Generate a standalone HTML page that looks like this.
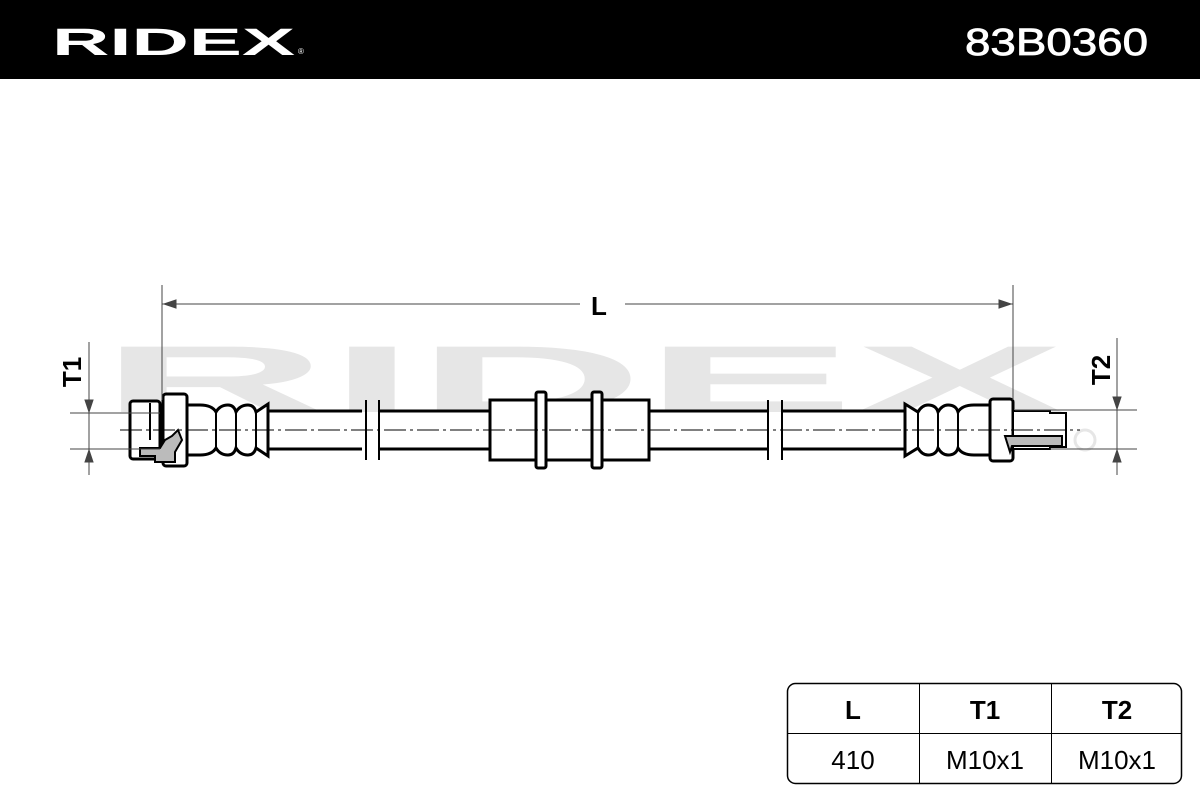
<!DOCTYPE html>
<html><head><meta charset="utf-8"><style>
html,body{margin:0;padding:0;background:#fff;}
svg{display:block;}
</style></head><body>
<svg width="1200" height="800" viewBox="0 0 1200 800" xmlns="http://www.w3.org/2000/svg" font-family="Liberation Sans, sans-serif">
<rect x="0" y="0" width="1200" height="79" fill="#000"/>
<text x="52" y="55" font-size="38" font-weight="bold" fill="#fff" textLength="243" lengthAdjust="spacingAndGlyphs">RIDEX</text>
<text x="298" y="54" font-size="8" fill="#fff">®</text>
<text x="965" y="55" font-size="38" fill="#fff" textLength="183" lengthAdjust="spacingAndGlyphs" stroke="#fff" stroke-width="0.8">83B0360</text>

<!-- watermark -->
<text x="100" y="412" font-size="95" font-weight="bold" fill="#e6e6e6" textLength="965" lengthAdjust="spacingAndGlyphs">RIDEX</text>
<circle cx="1085" cy="440" r="10" fill="none" stroke="#e6e6e6" stroke-width="3"/>

<g stroke="#000" stroke-width="3" fill="#fff">
<!-- tubes -->
<line x1="265" y1="411" x2="362" y2="411"/><line x1="265" y1="449" x2="362" y2="449"/>
<line x1="380" y1="411" x2="490" y2="411"/><line x1="380" y1="449" x2="490" y2="449"/>
<line x1="649" y1="411" x2="768" y2="411"/><line x1="649" y1="449" x2="768" y2="449"/>
<line x1="782" y1="411" x2="905" y2="411"/><line x1="782" y1="449" x2="905" y2="449"/>
<line x1="366" y1="400" x2="366" y2="460" stroke-width="2"/><line x1="379" y1="400" x2="379" y2="460" stroke-width="2"/>
<line x1="768" y1="400" x2="768" y2="460" stroke-width="2"/><line x1="782" y1="400" x2="782" y2="460" stroke-width="2"/>
<!-- sleeve -->
<rect x="490" y="400" width="159" height="60"/>
<rect x="536" y="392" width="10" height="76" rx="2"/>
<rect x="592" y="392" width="10" height="76" rx="2"/>
<!-- left fitting -->
<rect x="130" y="401" width="30" height="58" rx="3"/>
<rect x="163" y="394" width="24" height="72" rx="3"/>
<path d="M187 405 L200 405 Q212 405 216 412 Q220 405 228 405 Q234 405 236 412 Q240 405 248 405 Q254 405 256 412 L268 404 L268 456 L256 448 Q254 455 248 455 Q240 455 236 448 Q234 455 228 455 Q220 455 216 448 Q212 455 200 455 L187 455 Z"/>
<line x1="216" y1="412" x2="216" y2="448" stroke-width="2"/><line x1="236" y1="412" x2="236" y2="448" stroke-width="2"/><line x1="256" y1="412" x2="256" y2="448" stroke-width="2"/>
<path d="M140 448 L160 448 L165 440 L172 436 L178 430 L182 440 L175 452 L175 462 L155 462 L155 456 L140 456 Z" fill="#bbb" stroke-width="2"/>
<line x1="150" y1="403" x2="150" y2="440" stroke-width="2"/>
<!-- right fitting -->
<path d="M905 404 L918 412 Q922 405 928 405 Q936 405 938 412 Q942 405 948 405 Q956 405 958 412 Q962 405 974 405 L990 405 L990 455 L974 455 Q962 455 958 448 Q956 455 948 455 Q942 455 938 448 Q936 455 928 455 Q922 455 918 448 L905 456 Z"/>
<line x1="918" y1="412" x2="918" y2="448" stroke-width="2"/><line x1="938" y1="412" x2="938" y2="448" stroke-width="2"/><line x1="958" y1="412" x2="958" y2="448" stroke-width="2"/>
<rect x="990" y="399" width="23" height="62" rx="3"/>
<path d="M1013 411 L1050 411 L1050 413 L1066 413 L1066 447 L1050 447 L1050 449 L1013 449 Z" stroke-width="2"/>
<path d="M1005 436 L1062 436 L1062 446 L1012 446 L1010 452 Z" fill="#bbb" stroke-width="2"/>
</g>
<!-- centerline -->
<line x1="120" y1="430" x2="1080" y2="430" stroke="#000" stroke-width="1" stroke-dasharray="22,4,3,4"/>

<!-- dimensions -->
<g stroke="#444" stroke-width="1" fill="#444">
<line x1="162" y1="285" x2="162" y2="400"/>
<line x1="1013" y1="285" x2="1013" y2="400"/>
<line x1="162" y1="304" x2="580" y2="304"/><line x1="625" y1="304" x2="1013" y2="304"/>
<path d="M164 304 L176 300 L176 308 Z"/><path d="M1011 304 L999 300 L999 308 Z"/>
<line x1="70" y1="413" x2="160" y2="413"/><line x1="70" y1="449" x2="160" y2="449"/>
<line x1="89" y1="342" x2="89" y2="475"/>
<path d="M89 412 L85 400 L93 400 Z"/><path d="M89 450 L85 462 L93 462 Z"/>
<line x1="1015" y1="410" x2="1137" y2="410"/><line x1="1050" y1="449" x2="1137" y2="449"/>
<line x1="1117" y1="338" x2="1117" y2="475"/>
<path d="M1117 409 L1113 397 L1121 397 Z"/><path d="M1117 450 L1113 462 L1121 462 Z"/>
</g>
<text x="599" y="315" font-size="26" font-weight="bold" text-anchor="middle">L</text>
<text transform="translate(81,372) rotate(-90)" font-size="26" font-weight="bold" text-anchor="middle">T1</text>
<text transform="translate(1110,370) rotate(-90)" font-size="26" font-weight="bold" text-anchor="middle">T2</text>

<!-- table -->
<rect x="787.5" y="683.5" width="394" height="100" rx="8" fill="#fff" stroke="#000" stroke-width="1.5"/>
<line x1="787" y1="733.5" x2="1181" y2="733.5" stroke="#000" stroke-width="1"/>
<line x1="919.5" y1="683" x2="919.5" y2="783" stroke="#000" stroke-width="1"/>
<line x1="1051.5" y1="683" x2="1051.5" y2="783" stroke="#000" stroke-width="1"/>
<g font-size="26" text-anchor="middle">
<text x="853" y="719" font-weight="bold">L</text>
<text x="985" y="719" font-weight="bold">T1</text>
<text x="1117" y="719" font-weight="bold">T2</text>
<text x="853" y="769">410</text>
<text x="985" y="769">M10x1</text>
<text x="1117" y="769">M10x1</text>
</g>
</svg>
</body></html>
